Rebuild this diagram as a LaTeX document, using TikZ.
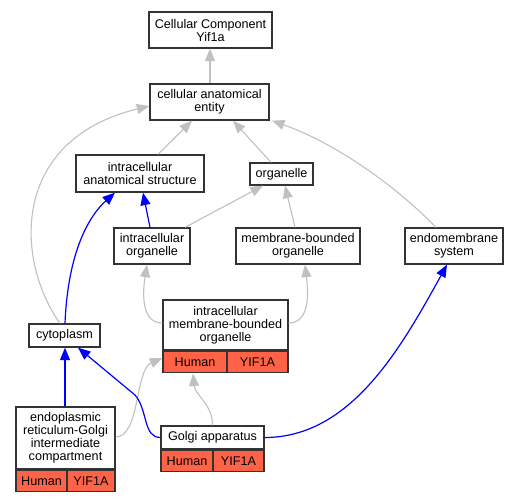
\documentclass[tikz,border=0pt]{standalone}
\usepackage{fontspec}
\setmainfont{Liberation Sans}
\usetikzlibrary{arrows.meta}
\definecolor{edgegray}{RGB}{192,192,192}
\definecolor{cellred}{RGB}{255,99,71}
\definecolor{boxline}{RGB}{51,51,51}
\tikzset{
  box/.style={draw=boxline, line width=1.3pt, fill=white, inner sep=0pt, align=center,
    font=\fontsize{12.6}{13}\selectfont},
  cell/.style={draw=boxline, line width=1.3pt, fill=cellred, inner sep=0pt, align=center,
    font=\fontsize{12.6}{13}\selectfont, minimum height=21.5pt},
  isa/.style={draw=edgegray, line width=1.1pt, -{Triangle[length=12.5pt,width=10pt]}},
  partof/.style={draw=blue, line width=1.2pt, -{Triangle[length=12.5pt,width=10pt]}},
}
\begin{document}
\begin{tikzpicture}[x=1pt,y=-1pt]
\useasboundingbox (0,0) rectangle (520,501);
% nodes
\node[box, minimum width=123pt, minimum height=36pt] (cc) at (210.5,30) {Cellular Component\\Yif1a};
\node[box, minimum width=119pt, minimum height=36pt] (cae) at (209.5,102) {cellular anatomical\\entity};
\node[box, minimum width=128pt, minimum height=37pt] (ias) at (140,173.5) {intracellular\\anatomical structure};
\node[box, minimum width=63pt, minimum height=22pt] (org) at (281.5,174) {organelle};
\node[box, minimum width=76pt, minimum height=36pt] (io) at (152,246) {intracellular\\organelle};
\node[box, minimum width=124pt, minimum height=36pt] (mbo) at (298,246) {membrane-bounded\\organelle};
\node[box, minimum width=98pt, minimum height=36pt] (ems) at (454,246) {endomembrane\\system};
\node[box, minimum width=125pt, minimum height=50pt] (imbo) at (225.5,325) {intracellular\\membrane-bounded\\organelle};
\node[cell, minimum width=64pt, anchor=north west] (imboH) at (imbo.south west) {Human};
\node[cell, minimum width=61pt, anchor=north east] (imboY) at (imbo.south east) {YIF1A};
\node[box, minimum width=71pt, minimum height=23pt] (cyt) at (64.5,335.5) {cytoplasm};
\node[box, minimum width=99pt, minimum height=62pt] (ergic) at (65.5,438) {endoplasmic\\reticulum-Golgi\\intermediate\\compartment};
\node[cell, minimum width=51pt, anchor=north west] (ergicH) at (ergic.south west) {Human};
\node[cell, minimum width=48pt, anchor=north east] (ergicY) at (ergic.south east) {YIF1A};
\node[box, minimum width=103pt, minimum height=23pt] (golgi) at (212.5,437.5) {Golgi apparatus};
\node[cell, minimum width=52pt, anchor=north west] (golgiH) at (golgi.south west) {Human};
\node[cell, minimum width=51pt, anchor=north east] (golgiY) at (golgi.south east) {YIF1A};
% edges
\draw[isa] (cae.north -| 210,0) -- (cc.south -| 210,0);
\draw[isa] (ias.north -| 158,0) -- (cae.south -| 192,0);
\draw[isa] (org.north -| 271,0) -- (cae.south -| 233,0);
\draw[isa] (ems.north -| 436,0) .. controls (400,190) and (340,145) .. (cae.south east -| 272,0);
\draw[isa] (cyt.north -| 60,0) .. controls (15,260) and (10,140) .. (cae.west |- 0,106);
\draw[partof] (cyt.north -| 65,0) .. controls (68,250) and (90,215) .. (ias.south -| 115,0);
\draw[partof] (io.north -| 150,0) -- (ias.south -| 143,0);
\draw[isa] (io.north -| 185,0) -- (org.south -| 263,0);
\draw[isa] (mbo.north -| 295,0) -- (org.south -| 285,0);
\draw[isa] (imbo.west |- 0,323) .. controls (140,323) and (143,290) .. (io.south -| 147,0);
\draw[isa] (imbo.east |- 0,323) .. controls (311,323) and (308,290) .. (mbo.south -| 305,0);
\draw[partof] (ergic.north -| 65,0) -- (cyt.south -| 65,0);
\draw[isa] (ergic.east |- 0,437) .. controls (140,437) and (135,370) .. (imboH.west |- 0,358);
\draw[partof] (golgi.west) .. controls (143,437.5) and (148,410) .. (135,395) -- (cyt.south -| 78,0);
\draw[isa] (golgi.north) .. controls (213,405) and (195,395) .. (imboH.south -| 193,0);
\draw[partof] (golgi.east) .. controls (350,437.5) and (400,350) .. (ems.south -| 447,0);
\end{tikzpicture}
\end{document}
